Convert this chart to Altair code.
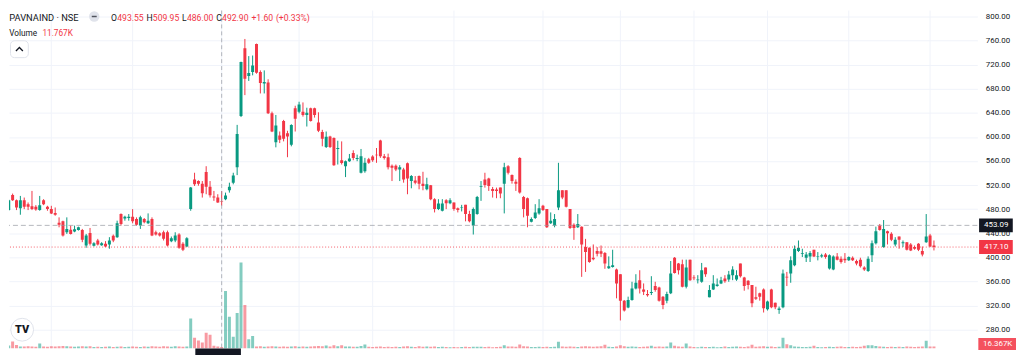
import altair as alt
import pandas as pd

# ---------------- data ----------------
opens = [
    478.5, 503.7, 494.9, 481.7, 494.9, 488.3, 485.0, 483.9, 478.5, 494.9,
    483.9, 480.1, 473.5, 457.6, 459.8, 441.7, 446.0, 442.8, 445.5, 445.5,
    419.7, 440.6, 419.2, 428.0, 420.3, 422.5, 421.4, 435.7, 433.5, 471.9,
    464.7, 465.3, 467.5, 463.6, 452.7, 463.6, 456.5, 463.6, 441.7, 440.0,
    441.7, 441.7, 426.9, 428.0, 437.9, 422.5, 418.1, 480.1, 529.5, 526.7,
    522.3, 541.6, 517.4, 501.0, 499.3, 493.55, 496.6, 511.4, 524.0, 549.8,
    634.8, 747.3, 701.2, 707.8, 754.5, 707.8, 688.6, 690.2, 639.2, 591.0,
    602.5, 626.6, 606.3, 587.1, 647.5, 642.0, 642.0, 636.5, 647.5, 647.5,
    623.9, 608.0, 583.3, 600.8, 598.1, 580.0, 561.3, 551.4, 559.7, 573.4,
    563.5, 540.5, 543.2, 563.0, 567.4, 570.6, 594.2, 567.9, 566.3, 552.0,
    552.0, 546.0, 546.0, 556.4, 526.7, 527.8, 535.0, 522.3, 513.0, 519.6,
    496.6, 480.1, 477.4, 494.9, 490.0, 491.1, 481.7, 481.8, 487.2, 471.9,
    452.7, 471.9, 517.4, 529.5, 531.1, 513.6, 512.5, 515.8, 522.4, 551.4,
    536.6, 525.6, 565.2, 500.4, 498.2, 459.2, 465.3, 473.0, 485.6, 480.1,
    456.5, 452.7, 482.9, 511.4, 511.4, 480.1, 454.3, 450.0, 451.0, 417.0,
    415.9, 399.4, 410.4, 410.0, 407.1, 381.9, 384.0, 379.7, 372.0, 328.1,
    316.6, 329.2, 348.4, 362.1, 346.8, 339.0, 340.9, 352.3, 350.1, 334.7,
    328.1, 340.2, 399.4, 389.6, 388.5, 351.2, 396.2, 366.5, 362.1, 359.4,
    383.0, 333.6, 346.8, 352.3, 356.7, 364.9, 363.2, 370.4, 363.2, 389.6,
    366.5, 361.0, 353.9, 333.6, 340.2, 346.8, 313.9, 346.8, 324.8, 312.5,
    317.2, 367.6, 373.1, 386.8, 410.4, 406.0, 399.4, 401.6, 412.6, 400.5,
    401.6, 404.9, 381.3, 379.7, 401.6, 397.8, 397.8, 395.0, 399.4, 394.0,
    396.2, 383.0, 377.5, 403.3, 423.6, 452.7, 417.0, 443.3, 439.0, 421.4,
    434.6, 423.6, 425.2, 421.4, 417.0, 422.5, 410.4, 425.2, 436.2, 419.7,
]
highs = [
    496.0, 505.9, 496.0, 502.0, 499.3, 491.1, 510.3, 486.7, 502.0, 496.6,
    485.6, 485.6, 482.8, 466.4, 460.9, 466.4, 452.7, 452.7, 451.0, 447.2,
    438.9, 448.8, 425.2, 430.7, 425.2, 426.9, 433.5, 437.9, 460.9, 473.0,
    469.1, 471.9, 480.1, 466.4, 469.1, 465.3, 473.0, 466.4, 444.4, 441.7,
    444.4, 444.4, 434.6, 441.7, 440.0, 425.2, 433.5, 516.9, 540.5, 528.0,
    526.7, 551.4, 526.7, 510.3, 504.8, 509.95, 507.5, 524.0, 540.5, 620.0,
    725.0, 762.7, 734.2, 735.2, 755.0, 710.5, 710.5, 695.7, 642.0, 636.5,
    609.0, 628.3, 610.2, 621.1, 651.8, 658.4, 657.3, 648.5, 648.6, 648.6,
    640.9, 611.8, 609.0, 601.9, 599.2, 593.7, 592.6, 560.8, 571.7, 577.8,
    570.6, 580.0, 565.2, 565.2, 569.6, 581.6, 595.3, 571.7, 572.3, 554.2,
    554.2, 553.1, 548.7, 557.5, 536.6, 535.0, 536.0, 542.1, 532.2, 520.2,
    498.2, 496.6, 496.6, 496.6, 498.2, 491.1, 482.8, 487.2, 487.2, 477.4,
    482.8, 502.0, 526.7, 540.5, 532.2, 516.9, 515.8, 515.8, 557.0, 553.1,
    537.7, 529.5, 566.3, 502.0, 499.3, 466.4, 488.3, 496.6, 487.2, 480.1,
    474.6, 471.9, 557.0, 511.4, 511.4, 480.1, 456.5, 471.9, 451.5, 430.7,
    416.5, 421.4, 417.0, 419.7, 408.8, 401.6, 412.6, 381.3, 372.0, 329.2,
    334.7, 359.4, 372.0, 378.6, 356.7, 345.7, 368.7, 359.4, 351.2, 335.7,
    342.9, 393.9, 400.5, 390.7, 396.2, 396.2, 396.2, 370.4, 370.4, 390.7,
    383.0, 353.9, 370.4, 364.9, 367.6, 370.4, 377.5, 385.2, 378.6, 389.6,
    367.6, 362.1, 353.9, 351.2, 341.3, 348.4, 328.1, 347.9, 324.8, 318.2,
    379.7, 375.8, 401.6, 419.7, 428.0, 414.3, 408.8, 410.4, 412.6, 408.8,
    406.0, 407.1, 404.9, 403.3, 407.1, 401.6, 407.1, 401.6, 401.6, 396.2,
    399.4, 385.2, 401.6, 428.0, 451.0, 455.4, 462.0, 444.4, 441.7, 433.5,
    434.6, 428.0, 425.2, 423.6, 419.7, 423.6, 418.1, 471.9, 439.0, 428.0,
]
lows = [
    477.0, 493.8, 478.5, 470.8, 480.1, 478.5, 478.5, 477.4, 477.4, 486.7,
    477.4, 471.9, 469.1, 449.9, 434.6, 438.9, 437.9, 441.7, 444.4, 425.2,
    415.9, 419.7, 418.1, 419.7, 419.2, 417.0, 414.3, 425.2, 432.4, 452.7,
    460.9, 460.9, 456.5, 452.7, 447.2, 456.5, 455.4, 435.2, 436.2, 434.6,
    428.0, 418.1, 425.2, 425.2, 414.3, 410.4, 417.0, 477.4, 518.5, 519.0,
    499.3, 504.8, 499.3, 493.8, 490.5, 486.0, 494.9, 507.5, 521.3, 536.6,
    633.0, 669.4, 693.0, 702.3, 705.0, 672.2, 672.2, 638.0, 608.0, 582.7,
    589.8, 592.6, 566.3, 584.4, 609.0, 639.2, 633.7, 617.3, 625.5, 632.1,
    608.0, 584.4, 581.6, 581.6, 552.0, 554.2, 554.2, 533.3, 558.6, 561.3,
    559.7, 539.4, 540.5, 555.3, 558.6, 557.0, 565.2, 562.4, 546.0, 526.7,
    543.2, 526.7, 524.0, 504.8, 514.7, 521.3, 513.0, 511.4, 511.4, 494.9,
    474.6, 478.5, 476.3, 480.1, 488.3, 477.4, 474.6, 476.3, 459.8, 458.1,
    437.9, 470.8, 493.8, 515.8, 510.3, 499.3, 498.2, 498.2, 473.0, 537.7,
    522.4, 510.3, 505.9, 466.4, 449.9, 458.1, 463.6, 470.8, 477.0, 448.8,
    455.4, 449.9, 478.5, 496.6, 482.9, 447.2, 429.1, 448.8, 367.6, 375.8,
    391.0, 395.1, 401.6, 400.5, 381.0, 380.8, 383.0, 331.9, 295.2, 310.0,
    315.5, 328.0, 346.8, 340.0, 337.4, 334.7, 337.4, 342.9, 326.5, 313.9,
    323.7, 339.0, 373.1, 371.5, 350.1, 348.4, 361.0, 362.1, 356.7, 357.8,
    367.6, 333.6, 345.7, 351.2, 355.6, 357.8, 359.4, 362.1, 361.0, 366.5,
    344.6, 346.8, 317.2, 329.2, 328.1, 308.4, 311.7, 315.5, 313.9, 306.2,
    315.5, 352.3, 357.8, 385.2, 408.8, 400.5, 392.3, 392.3, 400.5, 395.0,
    399.4, 397.8, 379.7, 378.6, 395.0, 389.6, 390.7, 394.0, 394.0, 386.8,
    383.0, 377.5, 375.8, 392.3, 421.4, 444.4, 415.9, 421.4, 426.9, 418.1,
    414.3, 417.0, 411.5, 410.4, 412.6, 410.4, 401.6, 424.1, 417.0, 411.5,
]
closes = [
    494.9, 494.9, 482.8, 494.9, 483.9, 483.9, 480.1, 479.6, 486.7, 488.3,
    480.1, 473.0, 470.8, 454.3, 436.2, 447.2, 438.9, 446.6, 449.9, 429.1,
    436.2, 422.5, 423.6, 421.4, 423.6, 418.1, 428.0, 428.0, 456.5, 455.4,
    467.5, 467.5, 459.8, 454.3, 466.4, 458.1, 460.9, 436.2, 437.9, 436.2,
    430.7, 419.7, 431.8, 436.2, 415.9, 412.6, 431.8, 515.8, 521.3, 522.3,
    506.4, 517.4, 503.1, 499.3, 491.3, 492.9, 502.6, 517.4, 536.0, 604.7,
    724.3, 696.8, 706.2, 718.8, 706.7, 689.7, 691.3, 639.2, 609.0, 619.0,
    595.3, 597.0, 600.8, 620.0, 630.0, 654.0, 636.5, 640.3, 626.6, 636.5,
    610.2, 597.0, 600.3, 583.3, 553.1, 581.6, 556.9, 559.7, 564.0, 565.2,
    565.2, 567.9, 557.0, 557.0, 561.3, 569.5, 567.9, 565.2, 549.8, 548.7,
    546.0, 549.8, 529.5, 531.1, 535.0, 524.0, 522.3, 518.5, 521.3, 496.6,
    480.1, 489.4, 489.4, 490.0, 494.9, 480.1, 478.5, 482.8, 471.9, 459.8,
    480.1, 500.4, 518.5, 520.2, 518.5, 510.3, 510.3, 505.9, 549.8, 540.5,
    526.7, 522.4, 507.6, 480.1, 469.1, 463.6, 474.6, 481.7, 478.5, 449.9,
    460.9, 463.6, 511.4, 499.3, 484.0, 448.8, 448.8, 455.4, 421.4, 408.8,
    392.3, 396.7, 406.0, 406.0, 389.6, 385.2, 386.8, 356.6, 328.1, 311.7,
    329.2, 348.4, 357.8, 348.4, 343.0, 337.0, 342.5, 345.7, 328.1, 321.0,
    339.0, 373.1, 374.2, 378.6, 351.2, 383.0, 362.1, 365.4, 363.2, 378.6,
    372.0, 345.7, 356.7, 355.0, 362.1, 360.5, 371.5, 379.7, 370.4, 368.7,
    352.3, 353.9, 323.7, 331.4, 334.7, 315.5, 326.5, 317.2, 317.2, 315.0,
    373.1, 366.5, 395.0, 414.3, 415.9, 407.1, 404.9, 407.1, 401.6, 401.6,
    403.3, 400.5, 403.3, 401.6, 396.2, 392.3, 395.0, 400.5, 395.0, 389.6,
    385.2, 379.7, 397.8, 423.6, 443.3, 445.5, 447.2, 440.0, 429.1, 429.1,
    429.1, 425.2, 412.6, 411.5, 414.3, 412.6, 404.9, 434.6, 418.1, 417.1,
]
volumes_k = [
    24, 56, 28, 16, 16, 18, 16, 14, 40, 16,
    14, 18, 16, 18, 20, 18, 16, 14, 16, 18,
    16, 18, 12, 14, 12, 14, 16, 12, 14, 16,
    12, 14, 16, 14, 12, 16, 14, 18, 16, 14,
    18, 16, 14, 18, 16, 14, 16, 242, 88, 64,
    48, 128, 112, 22, 16, 11.767, 464, 256, 96, 286,
    694, 352, 75, 102, 16, 18, 14, 16, 18, 16,
    14, 16, 14, 16, 18, 14, 16, 14, 16, 18,
    20, 18, 24, 16, 26, 18, 26, 16, 16, 14,
    14, 20, 32, 14, 12, 14, 16, 12, 14, 12,
    14, 12, 16, 18, 14, 12, 18, 14, 16, 14,
    16, 12, 14, 12, 10, 12, 10, 12, 14, 12,
    14, 14, 14, 12, 14, 10, 12, 14, 26, 16,
    16, 14, 32, 18, 16, 12, 12, 14, 12, 14,
    12, 14, 54, 16, 14, 16, 14, 12, 16, 18,
    16, 14, 16, 18, 30, 14, 12, 16, 26, 18,
    14, 16, 14, 12, 14, 16, 22, 14, 16, 14,
    16, 48, 22, 16, 14, 40, 16, 12, 10, 14,
    12, 12, 14, 10, 12, 16, 12, 14, 16, 14,
    12, 16, 30, 14, 16, 18, 14, 16, 12, 14,
    88, 34, 26, 16, 14, 12, 12, 14, 22, 12,
    10, 12, 14, 12, 14, 16, 12, 12, 14, 12,
    14, 22, 26, 26, 20, 16, 14, 12, 14, 12,
    14, 12, 16, 14, 12, 14, 16, 62, 16, 16.367,
]
month_start_idx = [11, 32, 55, 75, 94, 115, 138, 158, 177, 196, 217, 238]
price_ticks = [280, 320, 360, 400, 440, 480, 520, 560, 600, 640, 680, 720, 760, 800]
crosshair_idx = 55
crosshair_price = 453.09
symbol_name = "PAVNAIND · NSE"

n = len(opens)
assert len(highs) == n and len(lows) == n and len(closes) == n and len(volumes_k) == n

df = pd.DataFrame({
    "i": list(range(n)), "open": opens, "high": highs, "low": lows,
    "close": closes, "vol": volumes_k,
})
df["dir"] = ["up" if c >= o else "down" for o, c in zip(opens, closes)]

# ---------------- styling ----------------
GREEN, RED, TEXT = "#089981", "#F23645", "#131722"
GRID, CROSS = "#f0f3fa", "#9598a1"
FONT = "Roboto"
W, H = 977, 341

xs = alt.Scale(domain=[1.343, 248.93], nice=False, zero=False)
ys = alt.Scale(domain=[248.56, 809.88], nice=False, zero=False)
vs = alt.Scale(domain=[0, 2728], nice=False, zero=False)
col = alt.Color("dir:N", scale=alt.Scale(domain=["up", "down"], range=[GREEN, RED]), legend=None)
X = alt.X("i:Q", scale=xs, axis=None)

base = alt.Chart(df)

grid_v = alt.Chart(pd.DataFrame({"i": month_start_idx})).mark_rule(
    color=GRID, strokeWidth=1).encode(x=alt.X("i:Q", scale=xs, axis=None))

vol = base.mark_bar(size=3, opacity=0.5, clip=True).encode(
    x=X, y=alt.Y("vol:Q", scale=vs, axis=None), y2=alt.datum(0), color=col)

wick = base.mark_rule(strokeWidth=1, clip=True).encode(
    x=X,
    y=alt.Y("low:Q", scale=ys, axis=alt.Axis(
        orient="right", values=price_ticks, format=".2f", title=None,
        grid=True, gridColor=GRID, gridWidth=1, domain=False, ticks=False,
        labelPadding=8, labelFont=FONT, labelFontSize=8, labelColor=TEXT)),
    y2="high:Q", color=col)

body = base.mark_bar(size=3, clip=True).encode(
    x=X, y=alt.Y("open:Q", scale=ys, axis=None), y2="close:Q", color=col)

last_price = closes[-1]
last_line = alt.Chart(pd.DataFrame({"p": [last_price]})).mark_rule(
    color=RED, strokeDash=[1, 2], strokeWidth=1, opacity=0.8).encode(
    y=alt.Y("p:Q", scale=ys, axis=None))

cross_h = alt.Chart(pd.DataFrame({"p": [crosshair_price]})).mark_rule(
    color=CROSS, strokeDash=[5, 3], strokeWidth=1, opacity=0.7).encode(
    y=alt.Y("p:Q", scale=ys, axis=None))

cross_v = alt.Chart(pd.DataFrame({"i": [crosshair_idx]})).mark_rule(
    color=CROSS, strokeDash=[4, 3], strokeWidth=1, opacity=0.7).encode(
    x=alt.X("i:Q", scale=xs, axis=None))

BOX = "M-1,-0.412L1,-0.412L1,0.412L-1,0.412Z"
BOX_V = "M-1,-0.316L1,-0.316L1,0.316L-1,0.316Z"


def price_tag(p, fill):
    d = pd.DataFrame({"p": [p], "t": [f"{p:.2f}"]})
    box = alt.Chart(d).mark_point(shape=BOX, size=1156, filled=True, opacity=1,
                                  color=fill, strokeWidth=0).encode(
        x=alt.value(995.75), y=alt.Y("p:Q", scale=ys, axis=None))
    lab = alt.Chart(d).mark_text(color="white", font=FONT, fontSize=8,
                                 align="center", baseline="middle").encode(
        x=alt.value(996), y=alt.Y("p:Q", scale=ys, axis=None), text="t:N")
    return [box, lab]


vol_last = pd.DataFrame({"t": [f"{volumes_k[-1]:.3f}K"]})
vol_box = alt.Chart(vol_last).mark_point(shape=BOX_V, size=1444, filled=True, opacity=1,
                                         color="#f4515e", strokeWidth=0).encode(
    x=alt.value(997), y=alt.value(336.5))
vol_lab = alt.Chart(vol_last).mark_text(color="white", font=FONT, fontSize=8,
                                        align="center", baseline="middle").encode(
    x=alt.value(997.5), y=alt.value(336.5), text="t:N")

time_box = alt.Chart(pd.DataFrame({"a": [0]})).mark_rect(color=TEXT).encode(
    x=alt.value(188), x2=alt.value(234), y=alt.value(341), y2=alt.value(352))


def txt(text, x, y, color, size=8.7, weight="normal", align="left"):
    return alt.Chart(pd.DataFrame({"t": [text]})).mark_text(
        align=align, baseline="alphabetic", font=FONT, fontSize=size,
        fontWeight=weight, color=color).encode(
        x=alt.value(x), y=alt.value(y), text="t:N")


o, h, l, c = opens[crosshair_idx], highs[crosshair_idx], lows[crosshair_idx], closes[crosshair_idx]
prev = closes[crosshair_idx - 1]
chg = c - prev
pct = chg / prev * 100
leg_col = RED if c < o else GREEN

BL = 10.5
header = [
    txt(symbol_name, 0.3, BL, TEXT, size=9.4),
    txt("O", 103, BL, TEXT), txt(f"{o:.2f}", 109.2, BL, leg_col),
    txt("H", 138.8, BL, TEXT), txt(f"{h:.2f}", 145.1, BL, leg_col),
    txt("L", 174.6, BL, TEXT), txt(f"{l:.2f}", 179.5, BL, leg_col),
    txt("C", 209.2, BL, TEXT), txt(f"{c:.2f}", 215.0, BL, leg_col),
    txt(f"{chg:+.2f}", 244.6, BL, leg_col),
    txt(f"({pct:+.2f}%)", 269.3, BL, leg_col),
    txt("Volume", 0.3, 25.5, TEXT, size=8.3),
    txt(f"{volumes_k[crosshair_idx]:.3f}K", 33.7, 25.5, RED, size=8.3),
]

# small decorations of the TradingView pane
one = pd.DataFrame({"a": [0]})
eye_icon = alt.Chart(one).mark_point(filled=True, size=110, color="#e0e3eb", opacity=1).encode(
    x=alt.value(86), y=alt.value(6))
eye_dash = alt.Chart(one).mark_rule(color="#50535e", strokeWidth=1.5).encode(
    x=alt.value(83.5), x2=alt.value(88.5), y=alt.value(6))
btn = alt.Chart(one).mark_rect(fill="white", stroke="#e0e3eb", strokeWidth=1, cornerRadius=4).encode(
    x=alt.value(1.5), x2=alt.value(19.5), y=alt.value(30.5), y2=alt.value(47.5))
chevron = alt.Chart(one).mark_point(shape="M-1,0.5L0,-0.5L1,0.5", filled=False, size=49,
                                    color=TEXT, strokeWidth=1.3, opacity=1).encode(
    x=alt.value(10.5), y=alt.value(39))
logo_c = alt.Chart(one).mark_point(filled=True, size=530, fill="white", stroke="#e0e3eb",
                                   strokeWidth=1, opacity=1, shape="circle").encode(
    x=alt.value(13.3), y=alt.value(322))
logo_t = alt.Chart(pd.DataFrame({"t": ["TV"]})).mark_text(
    font=FONT, fontSize=11, fontWeight=900, color=TEXT, align="center",
    baseline="middle").encode(x=alt.value(13.3), y=alt.value(322.5), text="t:N")

layers = [grid_v, vol, wick, body, last_line, cross_h, cross_v]
layers += price_tag(last_price, RED)
layers += price_tag(crosshair_price, TEXT)
layers += [vol_box, vol_lab, time_box]
layers += header
layers += [eye_icon, eye_dash, btn, chevron, logo_c, logo_t]

chart = alt.layer(*layers).resolve_scale(y="independent").properties(
    width=W, height=H, padding=0, background="white"
).configure_view(stroke=None)

chart.save("out.html", embed_options={"renderer": "svg", "actions": False})
